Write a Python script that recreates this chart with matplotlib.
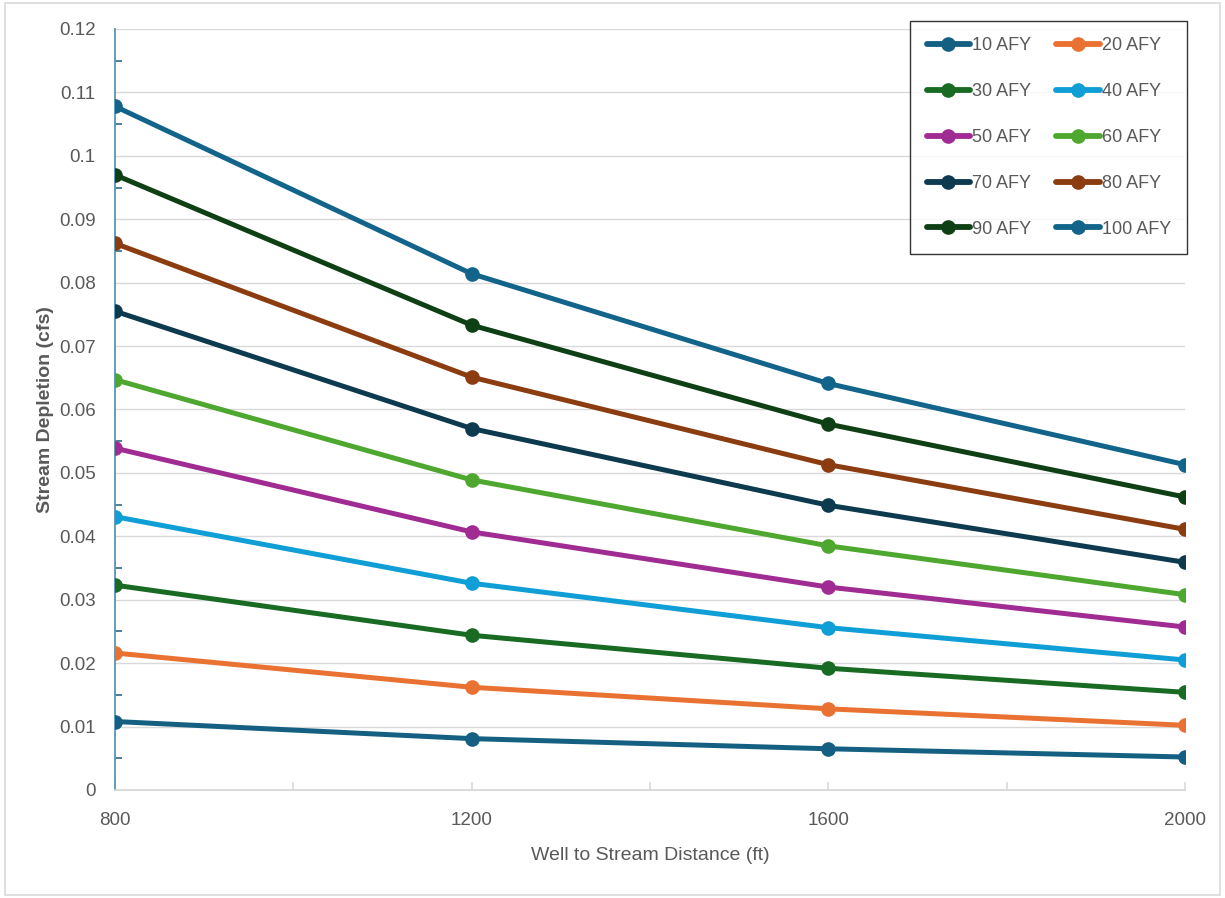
import matplotlib
matplotlib.use("Agg")
import matplotlib.pyplot as plt
from matplotlib.ticker import FuncFormatter, MultipleLocator, FixedLocator

plt.rcParams['font.family'] = ['Liberation Sans Narrow', 'Liberation Sans', 'DejaVu Sans']

distance = [800, 1200, 1600, 2000]
labels = ["10 AFY", "20 AFY", "30 AFY", "40 AFY", "50 AFY",
          "60 AFY", "70 AFY", "80 AFY", "90 AFY", "100 AFY"]
afy10 = [0.0108, 0.0081, 0.0065, 0.0052]
afy20 = [0.0216, 0.0162, 0.0128, 0.0102]
afy30 = [0.0323, 0.0244, 0.0192, 0.0154]
afy40 = [0.0431, 0.0326, 0.0256, 0.0205]
afy50 = [0.0539, 0.0407, 0.0320, 0.0257]
afy60 = [0.0647, 0.0489, 0.0385, 0.0308]
afy70 = [0.0755, 0.0570, 0.0449, 0.0359]
afy80 = [0.0862, 0.0651, 0.0513, 0.0411]
afy90 = [0.0970, 0.0733, 0.0577, 0.0462]
afy100 = [0.1078, 0.0814, 0.0641, 0.0513]
series = [afy10, afy20, afy30, afy40, afy50, afy60, afy70, afy80, afy90, afy100]
colors = ["#156082", "#E97132", "#196B24", "#0F9ED5", "#A02B93",
          "#4EA72E", "#0D3A4E", "#8B3C10", "#0F4015", "#12648A"]

text_color = "#595959"

fig = plt.figure(figsize=(12.25, 8.98), dpi=100)
fig.patch.set_facecolor("white")
ax = fig.add_axes([115/1225, 1-790/898, (1185-115)/1225, (790-29)/898])

handles = []
for vals, lab, c in zip(series, labels, colors):
    h, = ax.plot(distance, vals, color=c, lw=3.6, marker='o', ms=9.5,
                 label=lab, solid_capstyle='round', zorder=3)
    handles.append(h)

ax.set_xlim(800, 2000)
ax.set_ylim(0, 0.12)
ax.yaxis.set_major_locator(MultipleLocator(0.01))
ax.yaxis.set_minor_locator(MultipleLocator(0.005))
ax.yaxis.set_major_formatter(FuncFormatter(lambda v, p: f"{round(v, 3):g}"))
ax.xaxis.set_major_locator(FixedLocator([800, 1200, 1600, 2000]))
ax.xaxis.set_minor_locator(FixedLocator([1000, 1400, 1800]))

ax.grid(axis='y', which='major', color="#D9D9D9", lw=1.0, zorder=0)
ax.set_axisbelow(True)

for s in ['top', 'right']:
    ax.spines[s].set_visible(False)
ax.spines['left'].set_color("#5B93B3")
ax.spines['left'].set_linewidth(1.3)
ax.spines['bottom'].set_color("#D9D9D9")
ax.spines['bottom'].set_linewidth(1.3)

ax.tick_params(axis='y', which='major', length=0, pad=14, labelsize=13.5,
               labelcolor=text_color)
ax.tick_params(axis='y', which='minor', direction='in', length=5,
               color="#2E6A88", width=1.2)
ax.tick_params(axis='x', which='both', direction='in', length=6,
               color="#D9D9D9", width=1.2)
ax.tick_params(axis='x', which='major', pad=16, labelsize=13.5,
               labelcolor=text_color)

ax.set_xlabel("Well to Stream Distance (ft)", fontsize=14, color=text_color,
              labelpad=13)
ax.set_ylabel("Stream Depletion (cfs)", fontsize=14, color=text_color,
              fontweight='bold')
ax.yaxis.set_label_coords((54 - 115) / 1070, 0.5)

# row-major legend order (matplotlib fills columns first)
order = [0, 2, 4, 6, 8, 1, 3, 5, 7, 9]
leg = ax.legend([handles[i] for i in order], [labels[i] for i in order],
                ncol=2, loc='upper right', bbox_to_anchor=(1187/1225, 1-21/898),
                bbox_transform=fig.transFigure, borderaxespad=0,
                fontsize=13, frameon=True, fancybox=False,
                handlelength=2.4, handletextpad=0.1, columnspacing=1.4,
                labelspacing=1.6, borderpad=0.9)
leg.get_frame().set_edgecolor("black")
leg.get_frame().set_linewidth(1.0)
for t in leg.get_texts():
    t.set_color(text_color)
for lh in leg.get_lines():
    lh.set_linewidth(4.2)

# outer chart border
fig.add_artist(plt.Rectangle((5/1225, 3/898), 1-10/1225, 1-6/898,
                             transform=fig.transFigure, fill=False,
                             edgecolor="#D9D9D9", lw=1.2))

fig.savefig("out.png", dpi=100, facecolor="white")
